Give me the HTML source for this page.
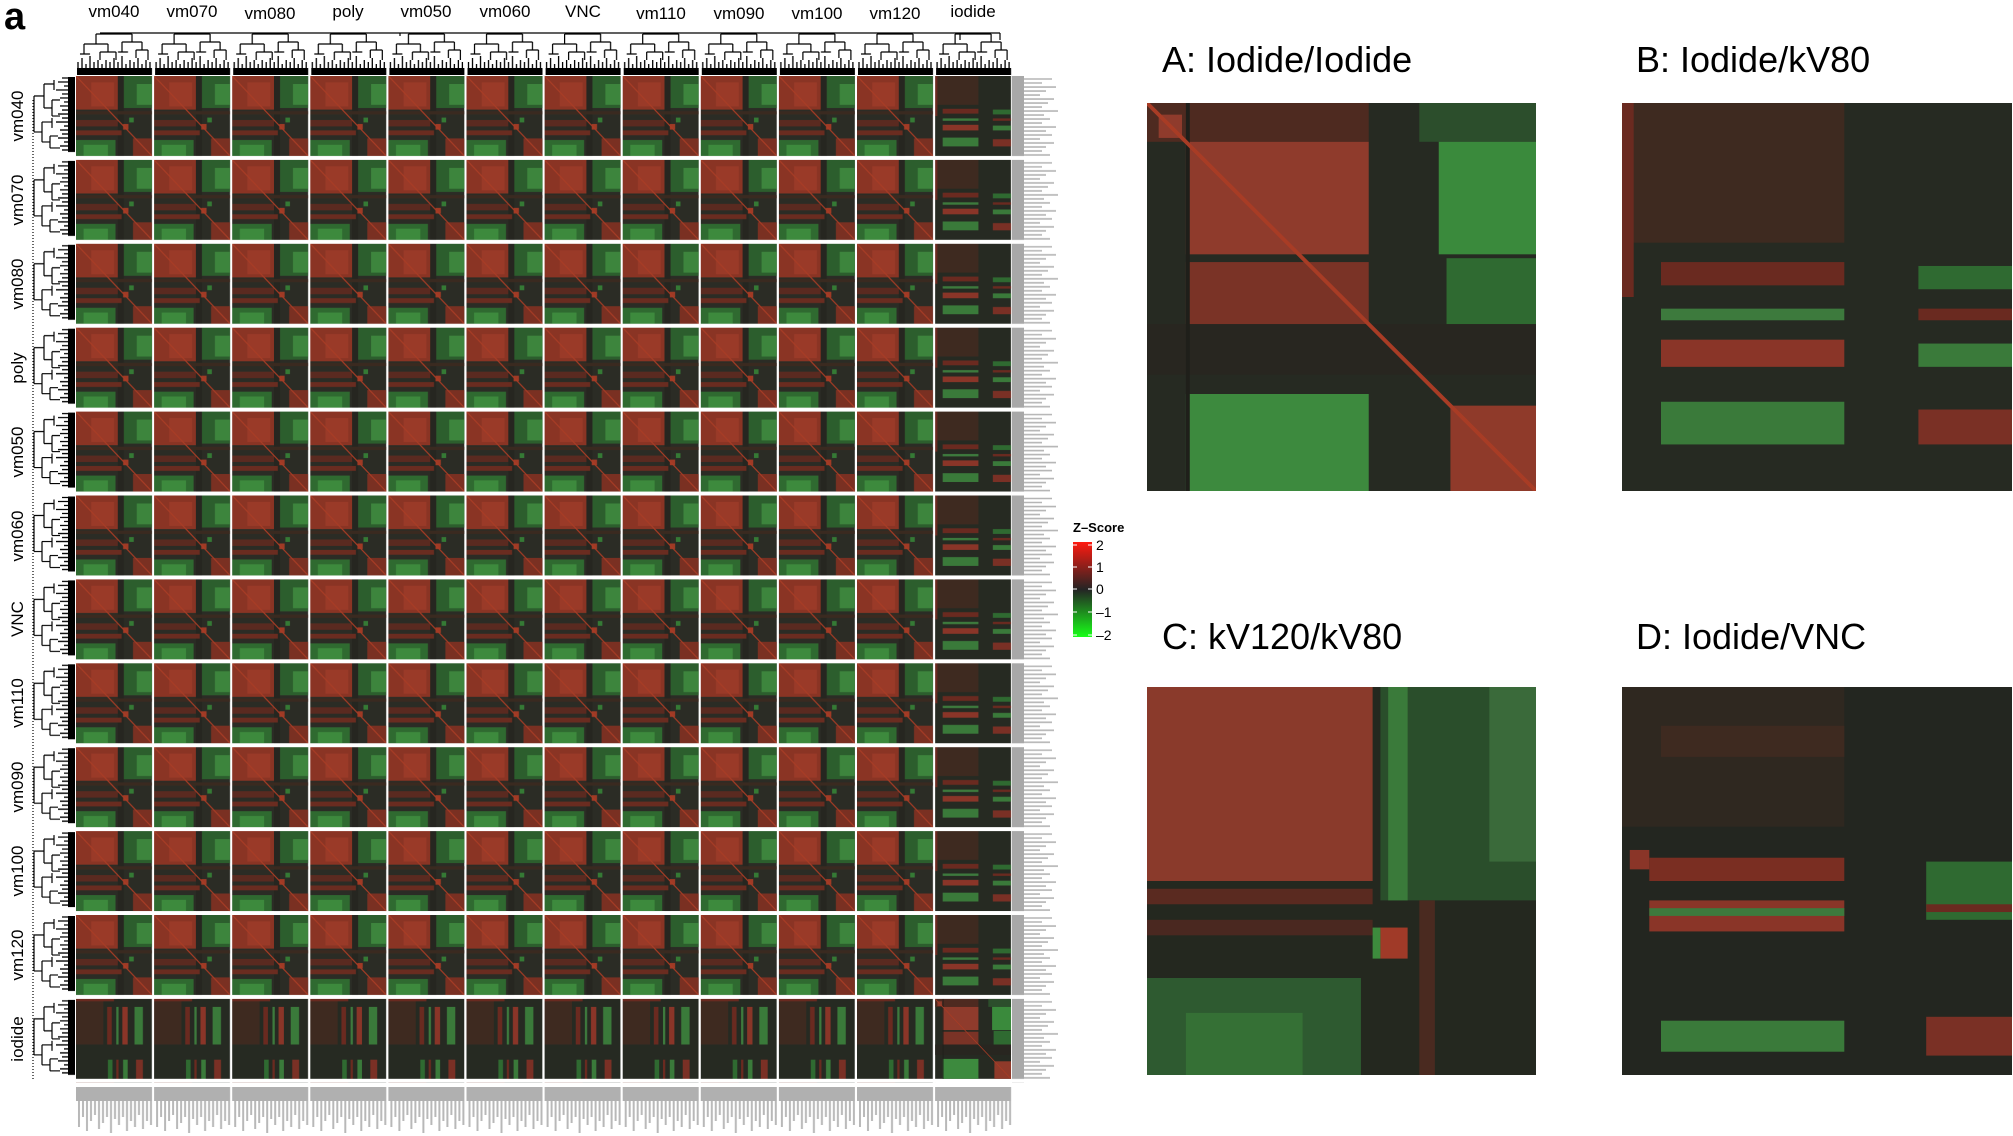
<!DOCTYPE html>
<html><head><meta charset="utf-8"><style>
html,body{margin:0;padding:0;background:#fff}
svg{display:block}
text{font-family:"Liberation Sans",sans-serif}
</style></head><body>
<svg width="2013" height="1136" viewBox="0 0 2013 1136" xmlns="http://www.w3.org/2000/svg">
<defs>
<linearGradient id="zg" x1="0" y1="0" x2="0" y2="1">
<stop offset="0" stop-color="#ff1a10"/><stop offset="0.5" stop-color="#242424"/><stop offset="1" stop-color="#18ff18"/>
</linearGradient>
<filter id="soft" x="0" y="0" width="1" height="1"><feGaussianBlur stdDeviation="1.2"/></filter>
<symbol id="P" viewBox="0 0 100 100" preserveAspectRatio="none">
<rect width="100" height="100" fill="#2b2c25"/>
<rect x="0" y="0" width="55" height="42" fill="#8a3424"/>
<rect x="20" y="8" width="30" height="30" fill="#9a3a28"/>
<rect x="55" y="0" width="8" height="100" fill="#262620"/>
<rect x="63" y="0" width="37" height="40" fill="#2c5e2d"/>
<rect x="80" y="10" width="20" height="26" fill="#3d853d"/>
<rect x="0" y="44" width="100" height="4" fill="#3a2a20"/>
<rect x="0" y="55" width="55" height="8" fill="#5a2a20"/>
<rect x="0" y="68" width="60" height="6" fill="#6a2c20"/>
<rect x="0" y="80" width="52" height="20" fill="#2f6a30"/>
<rect x="10" y="86" width="32" height="14" fill="#3d8a3d"/>
<rect x="75" y="78" width="25" height="22" fill="#7a3022"/>
<rect x="62" y="60" width="7" height="7" fill="#a03a25"/>
<rect x="70" y="52" width="6" height="6" fill="#357a35"/>
<line x1="0" y1="0" x2="100" y2="100" stroke="#a83c25" stroke-width="1.5"/>
</symbol>
<symbol id="B" viewBox="0 0 100 100" preserveAspectRatio="none">
<rect width="100" height="100" fill="#262a22"/>
<rect x="0" y="0" width="57" height="36" fill="#3e2a20"/>
<rect x="0" y="0" width="3" height="50" fill="#6a2a20"/>
<rect x="10" y="41" width="47" height="6" fill="#6a2a20"/>
<rect x="10" y="53" width="47" height="3" fill="#3d7a3d"/>
<rect x="10" y="61" width="47" height="7" fill="#8a3528"/>
<rect x="76" y="62" width="24" height="6" fill="#3a7a3a"/>
<rect x="10" y="77" width="47" height="11" fill="#3a7a3a"/>
<rect x="76" y="79" width="24" height="9" fill="#7a3025"/>
<rect x="76" y="42" width="24" height="6" fill="#2f6a31"/>
<rect x="76" y="53" width="24" height="3" fill="#6a2a20"/>
</symbol>
<symbol id="Bt" viewBox="0 0 100 100" preserveAspectRatio="none">
<g transform="matrix(0 1 1 0 0 0)"><use href="#B" width="100" height="100"/></g>
</symbol>
<symbol id="A" viewBox="0 0 100 100" preserveAspectRatio="none">
<rect width="100" height="100" fill="#262a22"/>
<rect x="0" y="0" width="57" height="10" fill="#4e2a20"/>
<rect x="70" y="0" width="30" height="10" fill="#2c4e2c"/>
<rect x="3" y="3" width="6" height="6" fill="#8f3b2c"/>
<rect x="10" y="10" width="47" height="29" fill="#8f3b2c"/>
<rect x="75" y="10" width="25" height="29" fill="#3a8a3c"/>
<rect x="10" y="41" width="47" height="16" fill="#7a3326"/>
<rect x="77" y="40" width="23" height="17" fill="#2f6a31"/>
<rect x="10" y="75" width="47" height="25" fill="#3d8a3e"/>
<rect x="78" y="78" width="22" height="22" fill="#8f3a2a"/>
<rect x="0" y="57" width="100" height="13" fill="#282620"/>
<rect x="10" y="0" width="1" height="100" fill="#1f1f1a"/>
<line x1="0" y1="0" x2="100" y2="100" stroke="#a83c25" stroke-width="1"/>
</symbol>
<symbol id="C" viewBox="0 0 100 100" preserveAspectRatio="none">
<rect width="100" height="100" fill="#24281f"/>
<rect x="0" y="0" width="58" height="50" fill="#8a3a2b"/>
<rect x="60" y="0" width="40" height="55" fill="#2a4e2b"/>
<rect x="62" y="0" width="5" height="55" fill="#3a7a3a"/>
<rect x="88" y="0" width="12" height="45" fill="#3a6a3a"/>
<rect x="0" y="52" width="58" height="4" fill="#5a2a20"/>
<rect x="0" y="60" width="58" height="4" fill="#4a2820"/>
<rect x="0" y="75" width="55" height="25" fill="#2e5a30"/>
<rect x="10" y="84" width="30" height="16" fill="#357035"/>
<rect x="60" y="62" width="7" height="8" fill="#a03a28"/>
<rect x="58" y="62" width="2" height="8" fill="#3d8a3d"/>
<rect x="70" y="55" width="4" height="45" fill="#4a2a20"/>
</symbol>
<symbol id="D" viewBox="0 0 100 100" preserveAspectRatio="none">
<rect width="100" height="100" fill="#232620"/>
<rect x="0" y="0" width="57" height="36" fill="#2f2820"/>
<rect x="10" y="10" width="47" height="8" fill="#3e2a20"/>
<rect x="2" y="42" width="5" height="5" fill="#8a3528"/>
<rect x="7" y="44" width="50" height="6" fill="#7a2e22"/>
<rect x="7" y="55" width="50" height="8" fill="#8a3528"/>
<rect x="7" y="57" width="50" height="2" fill="#3d7a3d"/>
<rect x="78" y="45" width="22" height="15" fill="#2f6a31"/>
<rect x="78" y="56" width="22" height="2" fill="#6a2a20"/>
<rect x="10" y="86" width="47" height="8" fill="#3a7a3a"/>
<rect x="78" y="85" width="22" height="10" fill="#7a3025"/>
</symbol>
<g id="dt">
<path d="M20 6H56M20 6V16M56 6V14M8 16H32M8 16V26M32 16V24M46 14H66M46 14V24M66 14V22M4 26H14M24 24H40M40 24V32M24 24V32M42 24H52M60 22H72M72 22V32M60 22V30" stroke="#000" stroke-width="1.2" fill="none"/>
<path d="M2 46V34M6 46V30M10 46V36M14 46V28M18 46V34M22 46V32M26 46V36M30 46V32M34 46V34M38 46V30M42 46V34M46 46V28M50 46V36M54 46V32M58 46V34M62 46V30M66 46V36M70 46V32M74 46V34" stroke="#000" stroke-width="1.3"/>
<rect x="1" y="40" width="75" height="7" fill="#000"/>
</g>
<pattern id="pP" patternUnits="userSpaceOnUse" x="76" y="76" width="78.1" height="83.9"><use href="#P" width="76" height="80"/></pattern>
<pattern id="pB" patternUnits="userSpaceOnUse" x="935.1" y="76" width="78.1" height="83.9"><use href="#B" width="76" height="80"/></pattern>
<pattern id="pBt" patternUnits="userSpaceOnUse" x="76" y="998.9" width="78.1" height="83.9"><use href="#Bt" width="76" height="80"/></pattern>
<pattern id="pDT" patternUnits="userSpaceOnUse" x="76" y="28" width="78.1" height="48"><use href="#dt"/></pattern>
<pattern id="pDL" patternUnits="userSpaceOnUse" x="28" y="76" width="48" height="83.9"><g transform="matrix(0 1 1 0 0 0)"><use href="#dt"/></g></pattern>
<pattern id="pRL" patternUnits="userSpaceOnUse" x="1012" y="76" width="50" height="83.9">
<rect x="0" y="0" width="12" height="80" fill="#a8a8a8"/>
<path d="M12 3H40M12 7H30M12 11H44M12 15H34M12 19H28M12 23H42M12 27H36M12 31H30M12 35H46M12 39H32M12 43H38M12 47H30M12 51H44M12 55H34M12 59H40M12 63H28M12 67H42M12 71H34M12 75H30M12 79H38" stroke="#b5b5b5" stroke-width="1.6"/>
</pattern>
<pattern id="pBL" patternUnits="userSpaceOnUse" x="76" y="1087" width="78.1" height="48">
<rect x="0" y="0" width="76" height="14" fill="#b0b0b0"/>
<path d="M3 14V40M7 14V30M11 14V44M15 14V34M19 14V28M23 14V42M27 14V36M31 14V30M35 14V46M39 14V32M43 14V38M47 14V30M51 14V44M55 14V34M59 14V40M63 14V28M67 14V42M71 14V34M75 14V38" stroke="#b8b8b8" stroke-width="2"/>
</pattern>
</defs>

<text x="4" y="29" font-size="38" font-weight="bold">a</text>
<g font-size="17" text-anchor="middle">
<text x="114" y="17">vm040</text><text x="192" y="17">vm070</text><text x="270" y="19">vm080</text><text x="348" y="17">poly</text><text x="426" y="17">vm050</text><text x="505" y="17">vm060</text><text x="583" y="17">VNC</text><text x="661" y="19">vm110</text><text x="739" y="19">vm090</text><text x="817" y="19">vm100</text><text x="895" y="19">vm120</text><text x="973" y="17">iodide</text>
</g>
<g font-size="17" text-anchor="middle">
<text transform="translate(23,116) rotate(-90)">vm040</text>
<text transform="translate(23,200) rotate(-90)">vm070</text>
<text transform="translate(23,284) rotate(-90)">vm080</text>
<text transform="translate(23,368) rotate(-90)">poly</text>
<text transform="translate(23,452) rotate(-90)">vm050</text>
<text transform="translate(23,536) rotate(-90)">vm060</text>
<text transform="translate(23,619) rotate(-90)">VNC</text>
<text transform="translate(23,703) rotate(-90)">vm110</text>
<text transform="translate(23,787) rotate(-90)">vm090</text>
<text transform="translate(23,871) rotate(-90)">vm100</text>
<text transform="translate(23,955) rotate(-90)">vm120</text>
<text transform="translate(23,1039) rotate(-90)">iodide</text>
</g>
<path d="M100 33H1000M1000 33V40M960 33V40M400 33V36" stroke="#000" stroke-width="1.2" fill="none"/>
<path d="M33 100V1080" stroke="#000" stroke-width="1.2" stroke-dasharray="1 2"/>
<rect x="76" y="28" width="937" height="48" fill="url(#pDT)"/>
<rect x="28" y="76" width="48" height="1007" fill="url(#pDL)"/>
<rect x="76" y="76" width="859.1" height="922.9" fill="url(#pP)"/>
<rect x="935.1" y="76" width="78" height="922.9" fill="url(#pB)"/>
<rect x="76" y="998.9" width="859.1" height="84" fill="url(#pBt)"/>
<use href="#A" x="935.1" y="998.9" width="76" height="80"/>
<rect x="1012" y="76" width="50" height="1007" fill="url(#pRL)"/>
<rect x="76" y="1087" width="937" height="48" fill="url(#pBL)"/>

<text x="1073" y="532" font-size="13" font-weight="bold">Z–Score</text>
<rect x="1073" y="542" width="19" height="95" fill="url(#zg)"/>
<g stroke="#fff" stroke-width="1"><path d="M1073 545h4M1088 545h4M1073 567h4M1088 567h4M1073 589h4M1088 589h4M1073 612h4M1088 612h4M1073 635h4M1088 635h4"/></g>
<g font-size="14"><text x="1096" y="550">2</text><text x="1096" y="572">1</text><text x="1096" y="594">0</text><text x="1096" y="617">–1</text><text x="1096" y="640">–2</text></g>

<g font-size="36">
<text x="1162" y="72">A: Iodide/Iodide</text>
<text x="1636" y="72">B: Iodide/kV80</text>
<text x="1162" y="649">C: kV120/kV80</text>
<text x="1636" y="649">D: Iodide/VNC</text>
</g>
<use href="#A" x="1147" y="103" width="389" height="388"/>
<use href="#B" x="1622" y="103" width="390" height="388"/>
<use href="#C" x="1147" y="687" width="389" height="388"/>
<use href="#D" x="1622" y="687" width="390" height="388"/>
</svg>
</body></html>
